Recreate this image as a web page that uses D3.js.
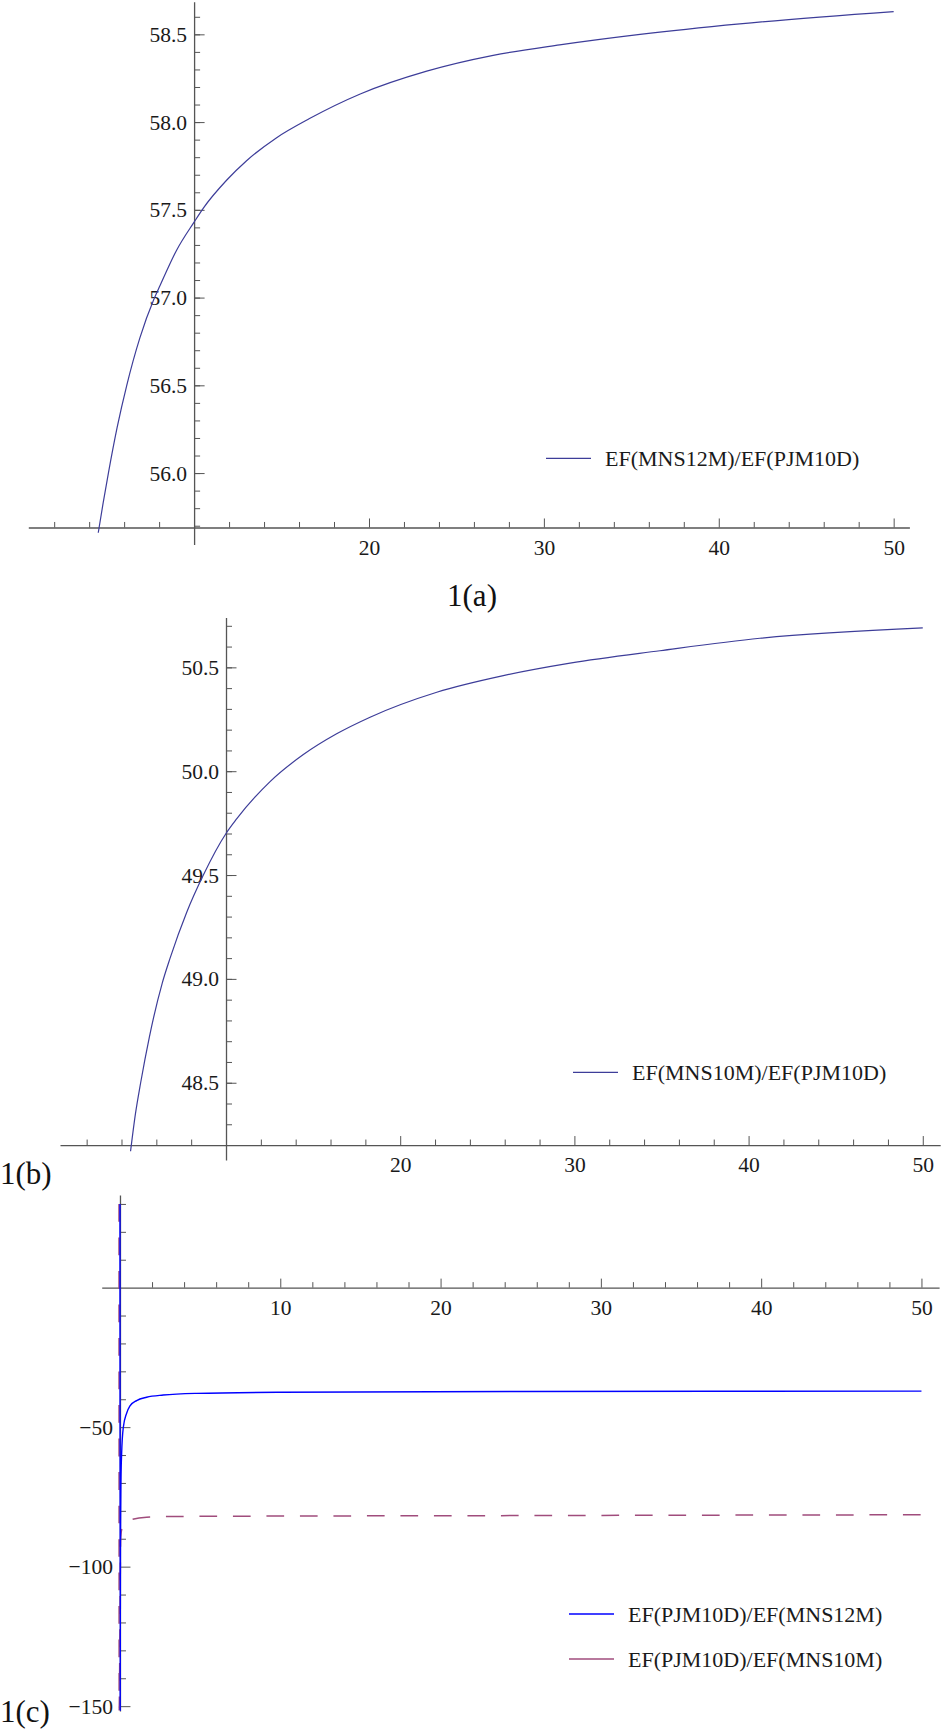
<!DOCTYPE html>
<html>
<head>
<meta charset="utf-8">
<script src="https://cdn.jsdelivr.net/npm/d3@7"></script>
<style>
body { margin: 0; background: #fff; }
</style>
</head>
<body>
<svg id="chart" width="941" height="1729"></svg>
<script>
// 1(a)  EF(MNS12M)/EF(PJM10D)
var xA = [4.52, 4.8, 5.1, 5.6, 6.15, 6.9, 7.7, 8.06, 9.0, 10.0, 10.53, 11.87, 13.0, 14.7, 16.6, 19.5, 23.3, 27.1, 30.9, 35.5, 41.2, 50];
var yA = [55.66, 55.83, 56.0, 56.26, 56.5, 56.77, 56.99, 57.07, 57.27, 57.43, 57.51, 57.67, 57.78, 57.91, 58.02, 58.16, 58.29, 58.38, 58.44, 58.50, 58.56, 58.63];
var yTicksA = [56.0, 56.5, 57.0, 57.5, 58.0, 58.5];

// 1(b)  EF(MNS10M)/EF(PJM10D)
var xB = [4.52, 4.8, 5.1, 5.6, 6.34, 6.79, 7.74, 8.70, 10.0, 10.61, 12.53, 14.44, 16.35, 18.27, 22.1, 25.92, 29.75, 34.91, 40.65, 50];
var yB = [48.17, 48.35, 48.50, 48.72, 48.98, 49.10, 49.32, 49.50, 49.70, 49.77, 49.95, 50.08, 50.18, 50.26, 50.38, 50.46, 50.52, 50.58, 50.64, 50.69];
var yTicksB = [48.5, 49.0, 49.5, 50.0, 50.5];

var xTicksAB = [20, 30, 40, 50];

// 1(c)  EF(PJM10D)/EF(MNS12M) and EF(PJM10D)/EF(MNS10M)
var xC1 = [0.0, 0.012, 0.03, 0.062, 0.104, 0.208, 0.416, 0.624, 1.04, 1.66, 2.70, 4.78, 9.98, 24.95, 50];
var yC1 = [30, -151.5, -90, -68.9, -59.4, -50.1, -45.0, -42.4, -40.5, -39.3, -38.5, -37.9, -37.5, -37.2, -37.1];
var xC2 = [-0.06, -0.05, 0.0, 0.04, 0.10, 0.31, 0.62, 1.66, 3.74, 24.95, 50];
var yC2 = [30, -151.5, -120, -90.4, -86.9, -84.2, -83.3, -82.3, -82.0, -81.7, -81.4];
var xTicksC = [10, 20, 30, 40, 50];
var yTicksC = [-50, -100, -150];

var svg = d3.select("#chart");
var axisColor = "#555";
var serif = "'Liberation Serif', 'Times New Roman', serif";

function zip(xs, ys) {
    return xs.map(function(d, i) { return [d, ys[i]]; });
}

function drawAxes(g, x, y, o) {
    // x axis: ticks point up, labels below
    var xa = g.append("g").attr("transform", "translate(0," + y(o.originY) + ")").attr("color", axisColor);
    xa.call(d3.axisBottom(x).tickValues(o.xMinor).tickSize(-5.5).tickSizeOuter(0).tickFormat(""));
    var xm = xa.append("g").call(d3.axisBottom(x).tickValues(o.xMajor).tickSize(-9).tickSizeOuter(0).tickPadding(12)
        .tickFormat(d3.format("d")));
    xm.select(".domain").remove();
    xa.select(".domain").attr("stroke-width", 1.3);

    // y axis: ticks point right, labels left
    var ya = g.append("g").attr("transform", "translate(" + x(o.originX) + ",0)").attr("color", axisColor);
    ya.call(d3.axisLeft(y).tickValues(o.yMinor).tickSize(-6).tickSizeOuter(0).tickFormat(""));
    var ym = ya.append("g").call(d3.axisLeft(y).tickValues(o.yMajor).tickSize(-10.5).tickSizeOuter(0).tickPadding(7)
        .tickFormat(o.yFormat));
    ym.select(".domain").remove();
    ya.select(".domain").attr("stroke-width", 1.3);
    ym.selectAll("text").attr("dy", "0.33em");

    g.selectAll(".tick text")
        .style("font-family", serif)
        .style("font-size", "21.5px")
        .style("fill", "#1a1a1a");
}

function legend(g, x1, y1, color, label) {
    g.append("line").attr("x1", x1).attr("x2", x1 + 45).attr("y1", y1).attr("y2", y1)
        .attr("stroke", color).attr("stroke-width", 1.3);
    g.append("text").attr("x", x1 + 59).attr("y", y1 + 7.5)
        .style("font-family", serif).style("font-size", "22px").style("fill", "#1a1a1a")
        .text(label);
}

function panelLabel(g, px, py, anchor, label) {
    g.append("text").attr("x", px).attr("y", py).attr("text-anchor", anchor)
        .style("font-family", serif).style("font-size", "31px").style("fill", "#111")
        .text(label);
}

function curve(g, x, y, pts, color, width, dash) {
    g.append("path")
        .datum(pts)
        .attr("fill", "none")
        .attr("stroke", color)
        .attr("stroke-width", width)
        .attr("stroke-dasharray", dash)
        .attr("d", d3.line().curve(d3.curveMonotoneX)
            .x(function(d) { return x(d[0]); })
            .y(function(d) { return y(d[1]); }));
}

var minorX = d3.range(2, 51, 2).filter(function(d) { return d % 10 != 0; });

// ---- 1(a)
(function() {
    var g = svg.append("g");
    var x = d3.scaleLinear().domain([0.52, 50.9]).range([28.3, 909.4]);
    var y = d3.scaleLinear().domain([55.593, 58.686]).range([544.5, 1.7]);
    drawAxes(g, x, y, {
        originX: 10, originY: 55.69,
        xMinor: minorX,
        xMajor: xTicksAB,
        yMinor: d3.range(55.7, 58.65, 0.1).map(function(d) { return +d.toFixed(1); }),
        yMajor: yTicksA,
        yFormat: d3.format(".1f")
    });
    curve(g, x, y, zip(xA, yA), "#3d3d99", 1.2);
    legend(g, 546, 458.3, "#3d3d99", "EF(MNS12M)/EF(PJM10D)");
    panelLabel(g, 472, 606, "middle", "1(a)");
})();

// ---- 1(b)
(function() {
    var g = svg.append("g");
    var x = d3.scaleLinear().domain([0.47, 51.0]).range([60, 940.2]);
    var y = d3.scaleLinear().domain([48.128, 50.74]).range([1160, 617.5]);
    drawAxes(g, x, y, {
        originX: 10, originY: 48.2,
        xMinor: minorX,
        xMajor: xTicksAB,
        yMinor: d3.range(48.3, 50.75, 0.1).map(function(d) { return +d.toFixed(1); }),
        yMajor: yTicksB,
        yFormat: d3.format(".1f")
    });
    curve(g, x, y, zip(xB, yB), "#3d3d99", 1.2);
    legend(g, 573, 1072.3, "#3d3d99", "EF(MNS10M)/EF(PJM10D)");
    panelLabel(g, 0, 1183.5, "start", "1(b)");
})();

// ---- 1(c)
(function() {
    var g = svg.append("g");
    var x = d3.scaleLinear().domain([-1.14, 51.1]).range([101.7, 939.1]);
    var y = d3.scaleLinear().domain([-151.7, 33.2]).range([1710.9, 1195]);
    drawAxes(g, x, y, {
        originX: 0, originY: 0,
        xMinor: minorX,
        xMajor: xTicksC,
        yMinor: d3.range(-140, 31, 10).filter(function(d) { return d % 50 != 0; }),
        yMajor: yTicksC,
        yFormat: d3.format("d")
    });
    svg.append("clipPath").attr("id", "clipC").append("rect")
        .attr("x", x(-1.14)).attr("y", y(33.2))
        .attr("width", x(51.1) - x(-1.14)).attr("height", y(-151.7) - y(33.2));
    var cg = g.append("g").attr("clip-path", "url(#clipC)");
    curve(cg, x, y, zip(xC2, yC2), "#a04c7c", 1.5, "17.7,15.8");
    curve(cg, x, y, zip(xC1, yC1), "#0000ff", 1.4);
    legend(g, 569, 1614, "#0000ff", "EF(PJM10D)/EF(MNS12M)");
    legend(g, 569, 1659, "#a04c7c", "EF(PJM10D)/EF(MNS10M)");
    panelLabel(g, 0, 1722, "start", "1(c)");
})();
</script>
</body>
</html>
